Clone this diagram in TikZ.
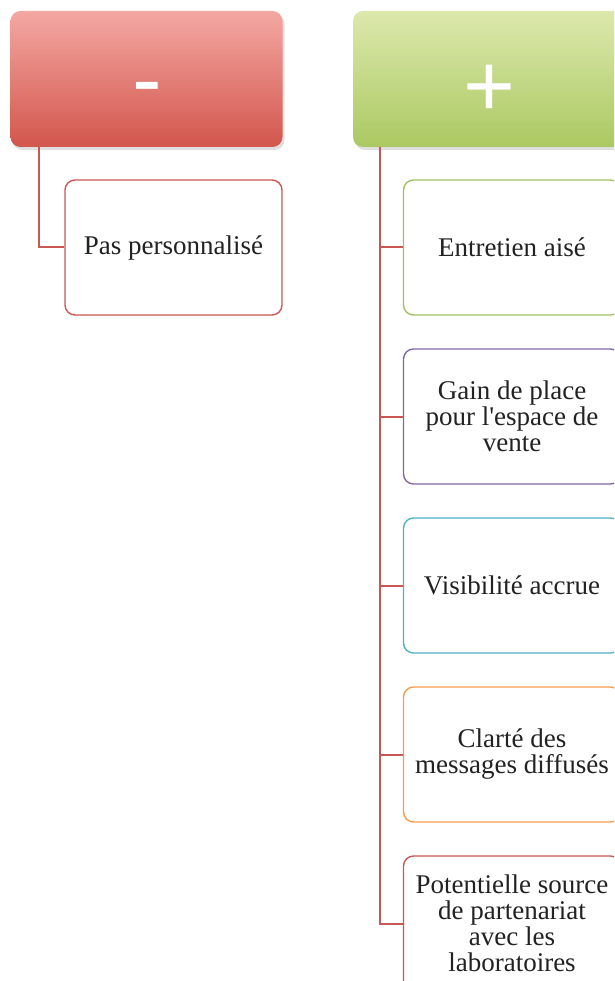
\documentclass[tikz,border=0pt]{standalone}
\usepackage{fontspec}
\setmainfont{Liberation Serif}[Ligatures=TeXOff]
\newfontfamily\signfont{Liberation Sans}
\usetikzlibrary{shadows}
\definecolor{minusTop}{RGB}{244,168,163}
\definecolor{minusBot}{RGB}{210,86,76}
\definecolor{plusTop}{RGB}{220,232,172}
\definecolor{plusBot}{RGB}{171,201,98}
\definecolor{cRed}{RGB}{200,88,84}
\definecolor{cGreen}{RGB}{160,194,96}
\definecolor{cPurple}{RGB}{132,104,166}
\definecolor{cCyan}{RGB}{80,176,202}
\definecolor{cOrange}{RGB}{248,156,76}
\definecolor{txt}{RGB}{34,34,34}
\tikzset{
  header/.style={rounded corners=10pt, minimum width=272pt, minimum height=136pt, inner sep=0pt,
    drop shadow={opacity=0.25, shadow xshift=2pt, shadow yshift=-3pt}},
  sign/.style={text=white, font=\signfont\fontsize{89}{89}\selectfont, inner sep=0pt},
  child/.style={draw, rounded corners=10pt, line width=1.4pt, fill=white, minimum width=217pt,
    minimum height=135pt, align=center, text=txt, inner sep=0pt,
    font=\fontsize{27}{26}\selectfont},
  conn/.style={draw=cRed, line width=2pt}
}
\begin{document}
\begin{tikzpicture}[x=1pt,y=-1pt]
\useasboundingbox (0,0) rectangle (614,981);
\clip (0,0) rectangle (614,981);
% headers
\node[header, top color=minusTop, bottom color=minusBot] (hminus) at (146.5,79) {};
\node[header, top color=plusTop, bottom color=plusBot] (hplus) at (489,79) {};
\node[sign, anchor=base] (tminus) at (147,110) {-};
\node[sign, anchor=base] (tplus) at (489,116.5) {+};
% left child
\node[child, draw=cRed] (pas) at (173.5,247.5) {Pas personnalisé};
% right children
\node[child, draw=cGreen] (ent) at (512,247.5) {Entretien aisé};
\node[child, draw=cPurple] (gain) at (512,416.5) {Gain de place\\pour l'espace de\\vente};
\node[child, draw=cCyan] (vis) at (512,585.5) {Visibilité accrue};
\node[child, draw=cOrange] (cla) at (512,754.5) {Clarté des\\messages diffusés};
\node[child, draw=cRed] (pot) at (512,923.5) {Potentielle source\\de partenariat\\avec les\\laboratoires};
% connectors
\coordinate (lstem) at (39,147);
\coordinate (rstem) at (380,147);
\draw[conn] (lstem) |- (pas.west);
\draw[conn] (rstem) |- (pot.west);
\draw[conn] (rstem |- ent.west) -- (ent.west);
\draw[conn] (rstem |- gain.west) -- (gain.west);
\draw[conn] (rstem |- vis.west) -- (vis.west);
\draw[conn] (rstem |- cla.west) -- (cla.west);
\end{tikzpicture}
\end{document}
